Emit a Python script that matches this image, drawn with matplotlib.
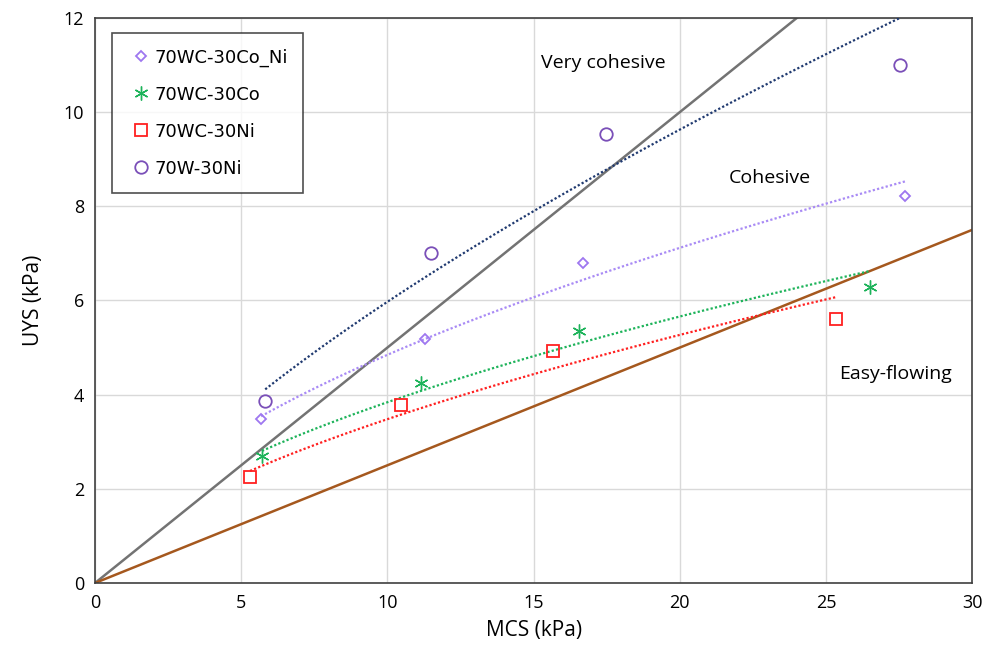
import numpy as np
import matplotlib
matplotlib.use('Agg')
import matplotlib.pyplot as plt

# measured points, MCS vs UYS (kPa)
names = ['70WC-30Co_Ni', '70WC-30Co', '70WC-30Ni', '70W-30Ni']
mcs_coni = [5.68, 11.29, 16.69, 27.71]
uys_coni = [3.48, 5.18, 6.80, 8.22]
mcs_co = [5.71, 11.15, 16.56, 26.51]
uys_co = [2.70, 4.25, 5.35, 6.29]
mcs_ni = [5.30, 10.47, 15.67, 25.35]
uys_ni = [2.25, 3.78, 4.93, 5.61]
mcs_wni = [5.82, 11.49, 17.48, 27.54]
uys_wni = [3.87, 7.01, 9.54, 11.00]

# flowability boundaries (ffc = 2 and ffc = 4)
ffc_lines = [2, 4]

plt.rcParams['font.family'] = ['DejaVu Sans']

fig = plt.figure(figsize=(9.92, 6.64), dpi=100)
ax = fig.add_axes([0.0958, 0.122, 0.8843, 0.851])

xx = np.array([0, 30])
ax.plot(xx, xx / ffc_lines[0], color='#737373', lw=1.8, zorder=2)
ax.plot(xx, xx / ffc_lines[1], color='#A5581E', lw=1.8, zorder=2)

series = [
    (mcs_coni, uys_coni, 'D', '#9E77F0', '#A98BF5', 5.5),
    (mcs_co, uys_co, (6, 2, 0), '#1DB35A', '#1DB35A', 10),
    (mcs_ni, uys_ni, 's', '#FF2020', '#FF2020', 9),
    (mcs_wni, uys_wni, 'o', '#7A4FB8', '#203A70', 9),
]

for (mx, my, mk, col, tcol, ms), nm in zip(series, names):
    mx = np.array(mx)
    my = np.array(my)
    # power-law trend through the points
    b, a = np.polyfit(np.log(mx), np.log(my), 1)
    tx = np.linspace(mx.min(), mx.max(), 100)
    ax.plot(tx, np.exp(a) * tx ** b, ls=(0, (1, 1)), color=tcol, lw=1.6, zorder=3)
    if mk == (6, 2, 0):
        ax.plot(mx, my, ls='none', marker=(6, 2, 0), ms=ms, mec=col, mew=1.0,
                label=nm, zorder=4)
    else:
        ax.plot(mx, my, ls='none', marker=mk, ms=ms, mfc='none', mec=col,
                mew=1.3, label=nm, zorder=4)

ax.set_xlim(0, 30)
ax.set_ylim(0, 12)
ax.set_xticks(np.arange(0, 31, 5))
ax.set_yticks(np.arange(0, 13, 2))
ax.grid(True, color='#D9D9D9', lw=1)
ax.set_axisbelow(True)
for s in ax.spines.values():
    s.set_color('#404040')
    s.set_linewidth(1.2)
ax.tick_params(length=0, labelsize=13, pad=8)
for lab in ax.get_xticklabels() + ax.get_yticklabels():
    lab.set_family('Open Sans')

ax.set_xlabel('MCS (kPa)', fontsize=15, family='Open Sans', labelpad=6)
ax.set_ylabel('UYS (kPa)', fontsize=15, family='Open Sans', labelpad=14)

ax.text(17.38, 11.05, 'Very cohesive', fontsize=14, family='Open Sans',
        ha='center', va='center')
ax.text(23.09, 8.60, 'Cohesive', fontsize=14, family='Open Sans',
        ha='center', va='center')
ax.text(27.37, 4.44, 'Easy-flowing', fontsize=14, family='Open Sans',
        ha='center', va='center')

leg = ax.legend(loc='upper left', bbox_to_anchor=(0.019, 0.973), fontsize=13,
                frameon=True, fancybox=False, edgecolor='#222222',
                labelspacing=1.05, handletextpad=0.0, handlelength=1.5,
                borderpad=0.85, borderaxespad=0)
leg.get_frame().set_linewidth(1.2)

fig.savefig('out.png', dpi=100)
